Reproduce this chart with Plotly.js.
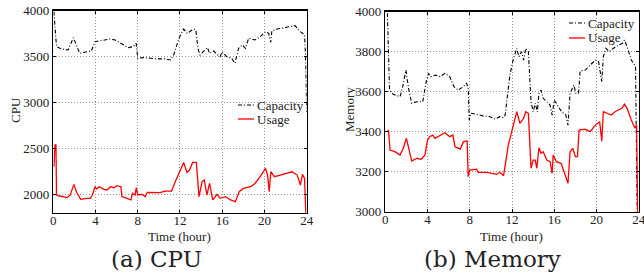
<!DOCTYPE html>
<html><head><meta charset="utf-8">
<script src="https://cdn.plot.ly/plotly-3.0.1.min.js"></script>
<style>html,body{margin:0;padding:0;background:#fff}#chart{width:644px;height:276px}</style>
</head><body><div id="chart"></div>
<script>
// (a) CPU
const cpuCapHours = [0.05,0.3,0.8,1.4,1.9,2.15,2.5,3.2,3.6,3.95,4.3,4.75,5.4,5.85,6.5,7.1,7.6,7.85,8.0,8.5,9.2,9.8,10.6,11.1,11.4,11.9,12.35,12.7,13.0,13.3,13.5,13.7,13.9,14.2,14.6,14.8,15.2,15.5,15.8,16.0,16.4,16.9,17.2,17.55,17.9,18.2,18.5,19.1,19.6,20.1,20.4,20.6,20.7,21.2,21.8,22.5,22.9,23.4,23.8,23.9,24.0];
const cpuCap = [3990,3609,3583,3572,3706,3627,3536,3554,3560,3663,3670,3681,3692,3681,3634,3598,3609,3645,3482,3489,3482,3475,3475,3464,3518,3699,3800,3753,3779,3800,3790,3590,3518,3554,3598,3536,3561,3525,3500,3554,3500,3482,3428,3590,3627,3590,3699,3681,3717,3772,3753,3656,3779,3800,3815,3826,3837,3772,3735,3500,2900];
const cpuUseHours = [0.06,0.15,0.25,0.3,0.6,1.3,1.6,1.95,2.2,2.6,3.2,3.5,3.7,3.95,4.1,4.35,4.75,5.1,5.4,5.75,6.0,6.4,6.5,7.0,7.35,7.5,7.75,7.85,8.0,8.4,8.7,8.9,9.5,10.1,10.6,11.2,11.55,11.9,12.35,12.65,12.9,13.2,13.55,13.8,14.1,14.3,14.55,14.8,14.95,15.1,15.35,15.5,15.8,16.3,16.8,17.25,17.6,18.0,18.7,19.1,19.6,20.1,20.3,20.45,20.6,20.95,21.5,22.0,22.6,23.1,23.4,23.6,23.8,23.92];
const cpuUse = [2300,2536,2543,1993,1982,1964,1993,2109,2022,1946,1957,1957,1993,2083,2058,2083,2058,2047,2083,2072,2094,2083,1975,1957,1939,2011,1993,2072,1993,2000,1975,2022,2022,2018,2036,2036,2138,2228,2348,2239,2264,2348,2348,1975,2138,2156,1993,2119,2011,1939,1975,2000,1957,1975,1939,1920,2029,2065,2083,2119,2192,2282,2210,2029,2246,2192,2210,2228,2246,2210,2101,2217,2174,1790];
// (b) Memory
const memCapHours = [0.2,0.4,0.75,1.4,1.65,1.95,2.2,2.5,3.0,3.55,3.9,4.1,4.3,4.7,5.2,5.65,6.1,6.5,6.9,7.4,7.7,7.85,7.95,8.1,8.65,9.3,9.9,10.4,10.85,11.2,11.35,11.6,11.8,12.1,12.45,12.65,12.9,13.1,13.3,13.55,13.8,14.0,14.2,14.4,14.55,14.75,14.95,15.3,15.6,15.8,16.0,16.3,16.7,17.1,17.3,17.5,17.85,18.05,18.3,18.45,18.95,19.4,19.9,20.2,20.5,20.65,20.9,21.2,21.6,22.1,22.45,22.65,22.9,23.3,23.7,23.85];
const memCap = [3992,3608,3587,3575,3625,3708,3617,3542,3550,3550,3658,3692,3675,3683,3675,3692,3675,3625,3608,3625,3642,3617,3458,3492,3487,3478,3475,3463,3475,3470,3483,3583,3683,3758,3817,3775,3800,3758,3817,3800,3550,3500,3542,3500,3592,3608,3567,3550,3533,3483,3558,3533,3500,3483,3433,3592,3633,3592,3592,3703,3708,3733,3758,3750,3650,3775,3817,3800,3817,3833,3842,3858,3825,3758,3725,3000];
const memUseHours = [0.2,0.3,0.45,0.9,1.4,1.7,2.0,2.3,2.5,3.0,3.4,3.75,4.0,4.2,4.5,4.7,5.2,5.65,6.1,6.4,6.6,7.1,7.4,7.75,7.85,8.0,8.65,8.8,9.6,10.2,10.55,10.85,11.2,11.65,12.0,12.45,12.75,13.1,13.3,13.55,13.8,14.0,14.2,14.35,14.55,14.75,14.95,15.3,15.6,15.8,15.9,16.2,16.65,16.95,17.3,17.5,17.75,18.0,18.2,18.35,18.9,19.4,19.9,20.3,20.5,20.65,20.95,21.4,21.75,22.1,22.4,22.65,22.9,23.3,23.65,23.8,23.9];
const memUse = [3400,3408,3308,3300,3283,3317,3367,3292,3253,3267,3262,3283,3358,3375,3383,3367,3383,3395,3375,3383,3325,3313,3350,3353,3175,3208,3213,3197,3197,3192,3187,3197,3180,3333,3408,3500,3442,3467,3500,3492,3217,3258,3258,3217,3320,3292,3300,3258,3250,3192,3283,3250,3242,3200,3142,3300,3317,3275,3275,3408,3413,3400,3433,3450,3353,3500,3492,3483,3500,3508,3517,3537,3517,3458,3417,3433,3000];

const xTicks = [0,4,8,12,16,20,24];
const cpuTicks = [2000,2500,3000,3500,4000];
const memTicks = [3000,3200,3400,3600,3800,4000];
const seriesNames = ['Capacity','Usage'];
const captions = ['(a) CPU','(b) Memory'];
const yTitles = ['CPU','Memory'];
const xTitle = 'Time (hour)';

const W = 644, H = 276;
const px = v => v / W, py = v => 1 - v / H;

const capLine = {color:'#000', width:1.1, dash:'4px,2px,1px,2px'};
const useLine = {color:'#ff0000', width:1.3};
const traces = [
  {x:cpuCapHours, y:cpuCap, name:seriesNames[0], mode:'lines', line:capLine, xaxis:'x', yaxis:'y'},
  {x:cpuUseHours, y:cpuUse, name:seriesNames[1], mode:'lines', line:useLine, xaxis:'x', yaxis:'y'},
  {x:memCapHours, y:memCap, name:seriesNames[0], mode:'lines', line:capLine, xaxis:'x2', yaxis:'y2'},
  {x:memUseHours, y:memUse, name:seriesNames[1], mode:'lines', line:useLine, xaxis:'x2', yaxis:'y2'}
];
const serif = 'Liberation Serif';
const tickFont = {family:serif, size:13, color:'#222'};
const ax = (extra) => Object.assign({
  showline:true, linecolor:'#000', linewidth:1.5, mirror:'ticks',
  ticks:'inside', ticklen:3, tickcolor:'#000', tickwidth:1,
  showgrid:true, gridcolor:'#999', griddash:'1px,2px', gridwidth:1,
  zeroline:false, tickfont:tickFont, fixedrange:true, ticklabeloverflow:'allow'
}, extra);

// legend drawn as paper-positioned samples + labels
const legendSpec = [
  {lineX:[238,254], textX:255, ys:[105,119]},
  {lineX:[569,585], textX:586, ys:[23,38]}
];
const shapes = [], annotations = [];
legendSpec.forEach(L => {
  [capLine, useLine].forEach((ln, i) => {
    shapes.push({type:'line', xref:'paper', yref:'paper', x0:px(L.lineX[0]), x1:px(L.lineX[1]),
      y0:py(L.ys[i]), y1:py(L.ys[i]), line:ln});
    annotations.push({text:seriesNames[i], xref:'paper', yref:'paper', x:px(L.textX), y:py(L.ys[i]),
      xanchor:'left', yanchor:'middle', showarrow:false, font:tickFont});
  });
});
// axis titles
[[180, 0], [512, 1]].forEach(([cx, i]) => {
  annotations.push({text:xTitle, xref:'paper', yref:'paper', x:px(cx), y:py(236), xanchor:'center', yanchor:'middle',
    showarrow:false, font:{family:serif, size:13, color:'#222'}});
});
annotations.push({text:yTitles[0], xref:'paper', yref:'paper', x:px(15), y:py(110), textangle:-90,
  xanchor:'center', yanchor:'middle', showarrow:false, font:tickFont});
annotations.push({text:yTitles[1], xref:'paper', yref:'paper', x:px(349), y:py(110), textangle:-90,
  xanchor:'center', yanchor:'middle', showarrow:false, font:tickFont});
// captions
annotations.push({text:captions[0], xref:'paper', yref:'paper', x:px(156), y:py(259), xanchor:'center', yanchor:'middle',
  showarrow:false, font:{family:'DejaVu Serif', size:23, color:'#222'}});
annotations.push({text:captions[1], xref:'paper', yref:'paper', x:px(492), y:py(259), xanchor:'center', yanchor:'middle',
  showarrow:false, font:{family:'DejaVu Serif', size:23, color:'#222'}});

const layout = {
  width:W, height:H, margin:{l:0,r:0,t:0,b:0},
  paper_bgcolor:'#fff', plot_bgcolor:'#fff', showlegend:false,
  xaxis: ax({domain:[0.0828,0.4762], range:[0,24], tickvals:xTicks, anchor:'y', ticklabelstandoff:-5}),
  yaxis: ax({domain:[0.2293,0.9612], range:[1800,4000], tickvals:cpuTicks, anchor:'x'}),
  xaxis2: ax({domain:[0.5983,0.9918], range:[0,24], tickvals:xTicks, anchor:'y2', ticklabelstandoff:-5}),
  yaxis2: ax({domain:[0.233,0.9576], range:[3000,4000], tickvals:memTicks, anchor:'x2'}),
  shapes, annotations
};
Plotly.newPlot('chart', traces, layout, {staticPlot:true, displayModeBar:false});
</script></body></html>
